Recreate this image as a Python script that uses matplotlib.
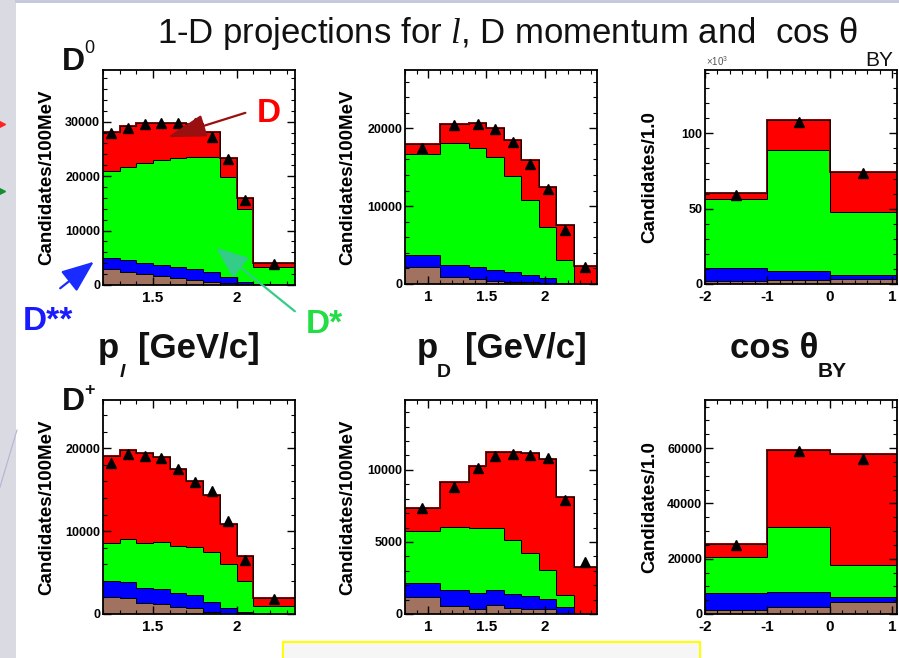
import numpy as np
import matplotlib
matplotlib.use("Agg")
import matplotlib.pyplot as plt
from matplotlib.ticker import FixedLocator, MultipleLocator, FuncFormatter
from matplotlib.patches import Rectangle

plt.rcParams['font.family'] = ['Liberation Sans', 'DejaVu Sans']
plt.rcParams['mathtext.fontset'] = 'custom'
plt.rcParams['mathtext.rm'] = 'Liberation Sans'
plt.rcParams['mathtext.it'] = 'Liberation Serif:italic'
plt.rcParams['mathtext.bf'] = 'Liberation Sans:bold'

# ---------------- data ----------------
# bin edges
pl_edges = [1.2, 1.3, 1.4, 1.5, 1.6, 1.7, 1.8, 1.9, 2.0, 2.1, 2.35]
pd_edges = [0.8, 1.1, 1.35, 1.5, 1.65, 1.8, 1.95, 2.1, 2.25, 2.45]
cos_edges = [-2.0, -1.0, 0.0, 1.08]

# D0, lepton momentum (components: D**other(brown), D**(blue), D*(green), D(red))
d0_pl_brown = [2900, 2450, 2000, 1650, 1200, 900, 600, 300, 100, 0]
d0_pl_blue = [2000, 2150, 2000, 2020, 2170, 2000, 1850, 1100, 500, 100]
d0_pl_green = [16100, 17100, 18350, 19280, 20030, 20680, 21130, 18500, 13300, 3270]
d0_pl_red = [7170, 7500, 7350, 6870, 6420, 6000, 4470, 3370, 2020, 730]
d0_pl_data = [27980, 28780, 29580, 29820, 29820, 29820, 27250, 23090, 15620, 3800]

# D0, D momentum
d0_pd_brown = [2210, 940, 600, 430, 300, 210, 130, 0, 0]
d0_pd_blue = [1490, 1490, 1610, 1360, 1190, 940, 680, 130, 0]
d0_pd_green = [12980, 15660, 15320, 14470, 12420, 9660, 6510, 2930, 0]
d0_pd_red = [1280, 2510, 3190, 3830, 4560, 5100, 5190, 4470, 2340]
d0_pd_data = [17500, 20400, 20500, 19900, 18200, 15400, 12200, 6900, 2200]

# D0, cos theta_BY (x10^3)
d0_cos_brown = [2.0, 2.7, 3.1]
d0_cos_blue = [8.5, 6.2, 2.9]
d0_cos_green = [46.1, 80.2, 42.1]
d0_cos_red = [4.0, 19.4, 26.5]
d0_cos_data = [58.8, 107.8, 73.5]

# D+, lepton momentum
dp_pl_brown = [2090, 1890, 1290, 1220, 880, 690, 280, 100, 0, 0]
dp_pl_blue = [1890, 2010, 1810, 1760, 1700, 1600, 1210, 590, 240, 50]
dp_pl_green = [4630, 5110, 5510, 5670, 5630, 5840, 6030, 5345, 3740, 920]
dp_pl_red = [10460, 10790, 10860, 10340, 9250, 7960, 6840, 4865, 3020, 920]
dp_pl_data = [18190, 19320, 19070, 18870, 17470, 15980, 14890, 11270, 6520, 1770]

# D+, D momentum
dp_pd_brown = [1200, 580, 330, 625, 400, 330, 330, 50, 0]
dp_pd_blue = [980, 1090, 1110, 1045, 990, 920, 690, 410, 0]
dp_pd_green = [3610, 4350, 4510, 4280, 3750, 2960, 2040, 860, 0]
dp_pd_red = [1550, 3170, 4330, 5320, 6130, 6950, 7680, 6830, 3290]
dp_pd_data = [7340, 8800, 10120, 10930, 11110, 11040, 10810, 7920, 3630]

# D+, cos theta_BY
dp_cos_brown = [1450, 2650, 4460]
dp_cos_blue = [6040, 5200, 1810]
dp_cos_green = [13260, 23760, 11470]
dp_cos_red = [4480, 27770, 40190]
dp_cos_data = [24980, 59130, 56000]

C_BROWN = '#a0725f'
C_BLUE = '#0000ff'
C_GREEN = '#00ff00'
C_RED = '#ff0000'

W, H = 899, 658
fig = plt.figure(figsize=(W / 100, H / 100), dpi=100)
fig.patch.set_facecolor('white')


def fx(x):
    return x / W


def fy(y):
    return 1 - y / H


def add_ax(x0, y0, x1, y1):
    return fig.add_axes([fx(x0), fy(y1), (x1 - x0) / W, (y1 - y0) / H])


# slide decorations
fig.patches.append(Rectangle((0, 0), fx(16), 1, transform=fig.transFigure,
                             facecolor='#dadae2', edgecolor='none', zorder=0))
fig.lines.append(plt.Line2D([fx(16), 1], [fy(0.8), fy(0.8)], transform=fig.transFigure,
                            color='#c4c4dc', lw=2))
fig.lines.append(plt.Line2D([fx(0), fx(17)], [fy(487), fy(430)], transform=fig.transFigure,
                            color='#b4b4d4', lw=0.8))
fig.lines.append(plt.Line2D([fx(2)], [fy(124)], transform=fig.transFigure,
                            marker='>', color='#ff2020', ms=5, ls='none'))
fig.lines.append(plt.Line2D([fx(2)], [fy(191)], transform=fig.transFigure,
                            marker='>', color='#109030', ms=5, ls='none'))
fig.patches.append(Rectangle((fx(283), fy(660)), (700 - 283) / W, 18 / H,
                             transform=fig.transFigure, facecolor='#f6f6f6',
                             edgecolor='#ffff00', lw=1.5, zorder=1))

fmt = FuncFormatter(lambda v, p: f"{v:g}")


def panel(box, edges, brown, blue, green, red, data, xlim, ymax, xmajor, xminor,
          ymajor, yminor, ylabel, ylabel_x):
    ax = add_ax(*box)
    edges = np.array(edges, float)
    comps = np.array([brown, blue, green, red], float)
    lev = np.cumsum(comps, axis=0)
    cols = [C_BROWN, C_BLUE, C_GREEN, C_RED]
    for i in range(3, -1, -1):
        base = lev[i - 1] if i > 0 else np.zeros(len(edges) - 1)
        ax.stairs(lev[i], edges, baseline=base, fill=True, color=cols[i], lw=0, zorder=1)
    for i in range(3):
        ax.stairs(lev[i], edges, baseline=None, color='black', lw=0.7, zorder=2)
    ax.stairs(lev[3], edges, baseline=None, color='#8a0000', lw=1.4, zorder=2)
    ax.stairs(lev[3], edges, baseline=None, color='black', lw=0.6, zorder=3)
    centers = 0.5 * (edges[:-1] + edges[1:])
    ax.plot(centers, data, '^', color='black', ms=7, zorder=4, clip_on=False)
    ax.set_xlim(*xlim)
    ax.set_ylim(0, ymax)
    ax.xaxis.set_major_locator(FixedLocator(xmajor))
    ax.xaxis.set_minor_locator(MultipleLocator(xminor))
    ax.yaxis.set_major_locator(FixedLocator(ymajor))
    ax.yaxis.set_minor_locator(MultipleLocator(yminor))
    ax.xaxis.set_major_formatter(fmt)
    ax.yaxis.set_major_formatter(fmt)
    ax.tick_params(which='both', direction='in', top=True, right=True, colors='black')
    ax.tick_params(which='major', length=6, width=1)
    ax.tick_params(which='minor', length=3, width=0.8)
    ax.tick_params(axis='y', which='major', labelsize=9, pad=2)
    ax.tick_params(axis='x', which='major', labelsize=11, pad=4)
    for lab in ax.get_xticklabels() + ax.get_yticklabels():
        lab.set_fontweight('bold')
    for s in ax.spines.values():
        s.set_linewidth(1.3)
    yc = 0.5 * (box[1] + box[3])
    fig.text(fx(ylabel_x), fy(yc), ylabel, rotation=90, ha='center', va='center',
             fontsize=13.5, fontweight='bold')
    return ax


panel((103, 70, 295, 285), pl_edges, d0_pl_brown, d0_pl_blue, d0_pl_green, d0_pl_red,
      d0_pl_data, (1.2, 2.35), 39500, [1.5, 2.0], 0.1, [0, 10000, 20000, 30000], 2000,
      'Candidates/100MeV', 47)
panel((405, 70, 597, 284), pd_edges, d0_pd_brown, d0_pd_blue, d0_pd_green, d0_pd_red,
      d0_pd_data, (0.8, 2.45), 27500, [1.0, 1.5, 2.0], 0.1, [0, 10000, 20000], 2000,
      'Candidates/100MeV', 348)
panel((705, 70, 897, 284), cos_edges, d0_cos_brown, d0_cos_blue, d0_cos_green, d0_cos_red,
      d0_cos_data, (-2, 1.08), 142, [-2, -1, 0, 1], 0.2, [0, 50, 100], 10,
      'Candidates/1.0', 650)
panel((103, 400, 295, 614), pl_edges, dp_pl_brown, dp_pl_blue, dp_pl_green, dp_pl_red,
      dp_pl_data, (1.2, 2.35), 25830, [1.5, 2.0], 0.1, [0, 10000, 20000], 2000,
      'Candidates/100MeV', 47)
panel((405, 400, 597, 614), pd_edges, dp_pd_brown, dp_pd_blue, dp_pd_green, dp_pd_red,
      dp_pd_data, (0.8, 2.45), 14850, [1.0, 1.5, 2.0], 0.1, [0, 5000, 10000], 1000,
      'Candidates/100MeV', 348)
panel((705, 400, 897, 614), cos_edges, dp_cos_brown, dp_cos_blue, dp_cos_green, dp_cos_red,
      dp_cos_data, (-2, 1.08), 77400, [-2, -1, 0, 1], 0.2, [0, 20000, 40000, 60000], 5000,
      'Candidates/1.0', 650)

fig.text(fx(706), fy(66), r'$\times$10$^{3}$', fontsize=7, color='#555555', ha='left',
         va='baseline')

# ---------------- titles / labels ----------------
TXT = '#111111'
fig.text(fx(157), fy(43), r"1-D projections for $\mathit{l}$, D momentum and  cos θ",
         fontsize=25, ha='left', va='baseline', color=TXT)
fig.text(fx(865), fy(66), 'BY', fontsize=15, ha='left', va='baseline', color=TXT)

fig.text(fx(62), fy(70), 'D', fontsize=23, fontweight='bold', ha='left', va='baseline', color=TXT)
fig.text(fx(84), fy(53), '0', fontsize=13, ha='left', va='baseline', color=TXT)
fig.text(fx(62), fy(410), 'D', fontsize=23, fontweight='bold', ha='left', va='baseline', color=TXT)
fig.text(fx(84), fy(395), '+', fontsize=13, fontweight='bold', ha='left', va='baseline', color=TXT)

fig.text(fx(98), fy(358), 'p', fontsize=25, fontweight='bold', ha='left', va='baseline', color=TXT)
fig.text(fx(120), fy(377), 'l', fontsize=14, fontweight='bold', fontstyle='italic',
         ha='left', va='baseline', color=TXT)
fig.text(fx(138), fy(358), '[GeV/c]', fontsize=25, fontweight='bold', ha='left', va='baseline', color=TXT)

fig.text(fx(417), fy(358), 'p', fontsize=25, fontweight='bold', ha='left', va='baseline', color=TXT)
fig.text(fx(437), fy(377), 'D', fontsize=14, fontweight='bold', ha='left', va='baseline', color=TXT)
fig.text(fx(465), fy(358), '[GeV/c]', fontsize=25, fontweight='bold', ha='left', va='baseline', color=TXT)

fig.text(fx(730), fy(358), 'cos θ', fontsize=25, fontweight='bold', ha='left', va='baseline', color=TXT)
fig.text(fx(818), fy(377), 'BY', fontsize=15, fontweight='bold', ha='left', va='baseline', color=TXT)

# ---------------- annotations ----------------
fig.text(fx(257), fy(122), 'D', fontsize=24, fontweight='bold', color='#ff0000',
         ha='left', va='baseline')
fig.text(fx(23), fy(330), 'D**', fontsize=24, fontweight='bold', color='#1a1aff',
         ha='left', va='baseline')
fig.text(fx(306), fy(333), 'D*', fontsize=24, fontweight='bold', color='#22dd44',
         ha='left', va='baseline')


def arrow(x0, y0, x1, y1, color, hw, hl):
    fig.add_artist(matplotlib.patches.FancyArrowPatch(
        (fx(x0), fy(y0)), (fx(x1), fy(y1)), transform=fig.transFigure,
        arrowstyle=f'-|>,head_width={hw},head_length={hl}', color=color, lw=1.6,
        mutation_scale=10, zorder=10))


arrow(248, 112, 165, 138, '#9a1010', 0.7, 2.4)
arrow(58, 290, 96, 260, '#1a2bff', 0.8, 2.0)
arrow(297, 313, 214, 246, '#33cc88', 0.8, 2.0)

fig.savefig('out.png', dpi=100)
